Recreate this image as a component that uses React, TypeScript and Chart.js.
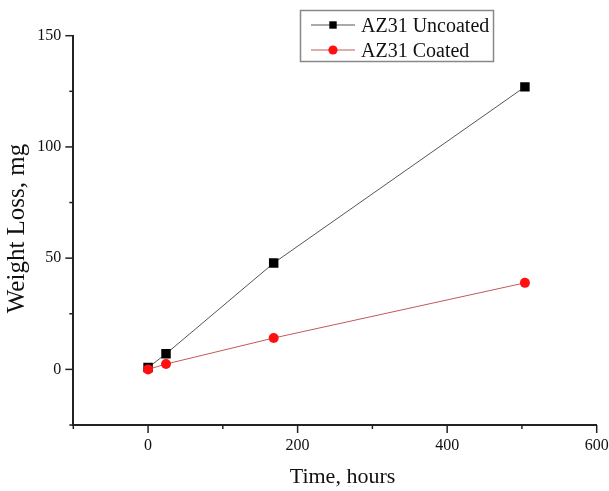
import React, { useEffect, useRef } from 'react';
import { Chart, registerables } from 'chart.js';

Chart.register(...registerables);

// ---- data ----
const hours = [0, 24, 168, 504];
const uncoatedLoss = [0.8, 7, 47.8, 127];
const coatedLoss = [0, 2.4, 14.1, 38.9];
const seriesNames = ['AZ31 Uncoated', 'AZ31 Coated'];
const xTickLabels = [0, 200, 400, 600];
const yTickLabels = [0, 50, 100, 150];
const xTitle = 'Time, hours';
const yTitle = 'Weight Loss, mg';

const FONT = '"Liberation Serif", "Times New Roman", serif';
const AXIS = '#222222';
const UNCOATED_LINE = '#555555';
const COATED_LINE = '#c05a5a';
const COATED_MARK = '#ff1010';

const decorPlugin = {
  id: 'decor',
  afterDraw(chart: any) {
    const ctx = chart.ctx as CanvasRenderingContext2D;
    const xs = chart.scales.x;
    const ys = chart.scales.y;
    const area = chart.chartArea;
    ctx.save();
    // tick marks
    ctx.strokeStyle = AXIS;
    ctx.lineWidth = 1.5;
    xs.ticks.forEach((t: any) => {
      const px = xs.getPixelForValue(t.value);
      const major = xTickLabels.includes(t.value);
      const len = major ? 8 : 4;
      ctx.beginPath();
      ctx.moveTo(px, area.bottom);
      ctx.lineTo(px, area.bottom + len);
      ctx.stroke();
    });
    ys.ticks.forEach((t: any) => {
      const py = ys.getPixelForValue(t.value);
      const major = yTickLabels.includes(t.value);
      const len = major ? 8 : 4;
      ctx.beginPath();
      ctx.moveTo(area.left, py);
      ctx.lineTo(area.left - len, py);
      ctx.stroke();
    });

    // axis titles
    ctx.fillStyle = '#111';
    ctx.font = `22px ${FONT}`;
    ctx.textAlign = 'center';
    ctx.textBaseline = 'alphabetic';
    ctx.fillText(xTitle, 342.5, 483);
    ctx.save();
    ctx.translate(23.5, 228.5);
    ctx.rotate(-Math.PI / 2);
    ctx.font = `25px ${FONT}`;
    ctx.fillText(yTitle, 0, 0);
    ctx.restore();

    // legend
    const bx = 300.5, by = 10.5, bw = 193, bh = 51;
    ctx.strokeStyle = '#888';
    ctx.lineWidth = 1.5;
    ctx.strokeRect(bx, by, bw, bh);
    const rows = [25, 50];
    const lineColors = [UNCOATED_LINE, COATED_LINE];
    rows.forEach((ry, i) => {
      ctx.strokeStyle = lineColors[i];
      ctx.lineWidth = 1;
      ctx.beginPath();
      ctx.moveTo(311, ry);
      ctx.lineTo(355, ry);
      ctx.stroke();
      if (i === 0) {
        ctx.fillStyle = '#000';
        ctx.fillRect(333 - 3.7, ry - 3.7, 7.4, 7.4);
      } else {
        ctx.fillStyle = COATED_MARK;
        ctx.beginPath();
        ctx.arc(333, ry, 4.6, 0, Math.PI * 2);
        ctx.fill();
      }
      ctx.fillStyle = '#111';
      ctx.font = `20px ${FONT}`;
      ctx.textAlign = 'left';
      ctx.textBaseline = 'alphabetic';
      ctx.fillText(seriesNames[i], 361, ry + 7);
    });
    ctx.restore();
  },
};

export default function App() {
  const ref = useRef<HTMLCanvasElement | null>(null);
  useEffect(() => {
    if (!ref.current) return;
    const chart = new Chart(ref.current, {
      type: 'line',
      data: {
        datasets: [
          {
            label: seriesNames[0],
            data: hours.map((h, i) => ({ x: h, y: uncoatedLoss[i] })),
            borderColor: UNCOATED_LINE,
            borderWidth: 1,
            pointStyle: 'rect',
            pointRadius: 6.7,
            pointBackgroundColor: '#000',
            pointBorderColor: '#000',
            pointBorderWidth: 0,
            order: 1,
          },
          {
            label: seriesNames[1],
            data: hours.map((h, i) => ({ x: h, y: coatedLoss[i] })),
            borderColor: COATED_LINE,
            borderWidth: 1,
            pointStyle: 'circle',
            pointRadius: 5,
            pointBackgroundColor: COATED_MARK,
            pointBorderColor: COATED_MARK,
            pointBorderWidth: 0,
            order: 0,
          },
        ],
      },
      options: {
        responsive: false,
        animation: false,
        layout: { padding: { left: 0, right: 12.3, top: 35.7, bottom: 0 } },
        plugins: { legend: { display: false }, tooltip: { enabled: false } },
        scales: {
          x: {
            type: 'linear',
            min: -100,
            max: 600,
            grid: { display: false, drawTicks: false },
            border: { display: true, color: AXIS, width: 2 },
            ticks: {
              stepSize: 100,
              autoSkip: false,
              maxRotation: 0,
              padding: 10.8,
              color: '#111',
              font: { family: FONT, size: 16 },
              callback: (v: any) => (xTickLabels.includes(v) ? String(v) : ''),
            },
            afterFit: (s: any) => {
              s.height = 66;
              s.paddingLeft = 0;
              s.paddingRight = 0;
            },
          },
          y: {
            type: 'linear',
            min: -25,
            max: 150,
            grid: { display: false, drawTicks: false },
            border: { display: true, color: AXIS, width: 2 },
            ticks: {
              stepSize: 25,
              autoSkip: false,
              padding: 12,
              color: '#111',
              font: { family: FONT, size: 16 },
              callback: (v: any) => (yTickLabels.includes(v) ? String(v) : ''),
            },
            afterFit: (s: any) => {
              s.width = 73.3;
              s.paddingTop = 0;
              s.paddingBottom = 0;
            },
          },
        },
      },
      plugins: [decorPlugin],
    });
    return () => chart.destroy();
  }, []);
  return (
    <div style={{ position: 'fixed', left: 0, top: 0, width: 609, height: 491, background: '#fff' }}>
      <canvas ref={ref} width={609} height={491} style={{ display: 'block' }} />
    </div>
  );
}
